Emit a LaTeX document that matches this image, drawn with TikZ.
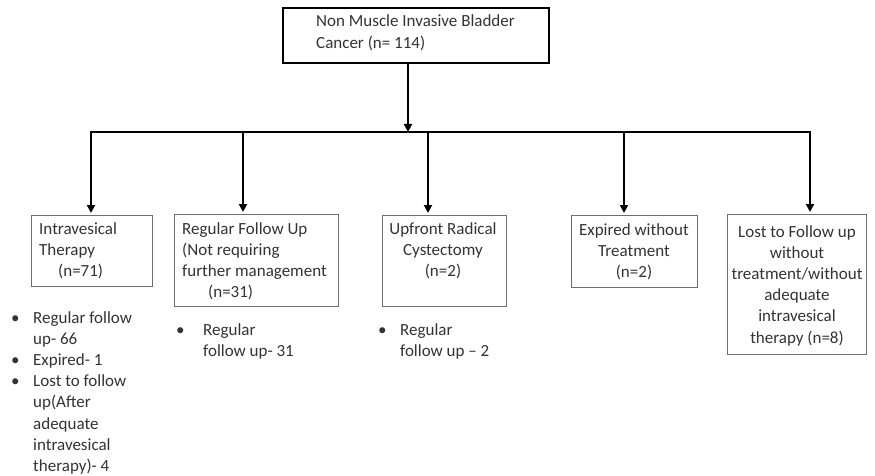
\documentclass[tikz,border=0pt]{standalone}
\usepackage{fontspec}
\setmainfont{Carlito}
\usetikzlibrary{arrows.meta}
\definecolor{txtc}{HTML}{333333}
\definecolor{bord}{HTML}{6E6E6E}
\newcommand\mybul[1]{\makebox[#1][l]{•}}
\begin{document}
\begin{tikzpicture}[x=1pt,y=-1pt,
  font=\fontsize{17}{21.2}\selectfont,
  box/.style={draw=bord,line width=1.3pt,inner sep=0pt,anchor=north west},
  topbox/.style={draw=black,line width=2.2pt,inner sep=0pt,anchor=north west},
  lbl/.style={text=txtc,inner sep=0pt,align=left,anchor=base west},
  clbl/.style={text=txtc,inner sep=0pt,align=center,anchor=base},
  arr/.style={line width=2.8pt,-{Triangle[width=8pt,length=8pt]}},
  conn/.style={line width=2.8pt,line cap=rect}]
\useasboundingbox (0,0) rectangle (875,476);
% boxes
\node[topbox,minimum width=266pt,minimum height=55pt] (top) at (282,7) {};
\node[box,minimum width=121pt,minimum height=71pt] (intra) at (31,215) {};
\node[box,minimum width=164pt,minimum height=92pt] (reg) at (174,214) {};
\node[box,minimum width=124pt,minimum height=91pt] (upf) at (382,215) {};
\node[box,minimum width=126pt,minimum height=72pt] (exp) at (571,215) {};
\node[box,minimum width=139pt,minimum height=140pt] (lost) at (727,214) {};
% texts (anchored at the baseline of the last line)
\node[lbl] (toptxt) at (316,48.2) {Non Muscle Invasive Bladder\\Cancer (n= 114)};
\node[lbl] (t1) at (39,276.4) {Intravesical\\Therapy\\\hspace*{19pt}(n=71)};
\node[lbl] (t2) at (182,297.6) {Regular Follow Up\\(Not requiring\\further management\\\hspace*{26pt}(n=31)};
\node[clbl] (t3) at (443,276.4) {Upfront Radical\\Cystectomy\\(n=2)};
\node[clbl] (t4) at (634,277.4) {Expired without\\Treatment\\(n=2)};
\node[clbl] (t5) at (797,343) {Lost to Follow up\\without\\treatment/without\\adequate\\intravesical\\therapy (n=8)};
% bullet lists
\node[lbl] (b1) at (11,471.4) {\mybul{22pt}Regular follow\\\hspace*{22pt}up- 66\\\mybul{22pt}Expired- 1\\\mybul{22pt}Lost to follow\\\hspace*{22pt}up(After\\\hspace*{22pt}adequate\\\hspace*{22pt}intravesical\\\hspace*{22pt}therapy)- 4};
\node[lbl] (b2) at (176,356.2) {\mybul{27pt}Regular\\\hspace*{27pt}follow up- 31};
\node[lbl] (b3) at (378,356.2) {\mybul{22pt}Regular\\\hspace*{22pt}follow up – 2};
% connectors
\coordinate (hub) at (408,132);
\coordinate (d1) at (91,132);
\coordinate (d2) at (243,132);
\coordinate (d3) at (428,132);
\coordinate (d4) at (624,132);
\coordinate (d5) at (810,132);
\draw[arr] (top.south -| hub) -- (hub);
\draw[conn] (d1) -- (d5);
\draw[arr] (d1) -- ([yshift=2pt]d1 |- intra.north);
\draw[arr] (d2) -- ([yshift=2pt]d2 |- reg.north);
\draw[arr] (d3) -- ([yshift=2pt]d3 |- upf.north);
\draw[arr] (d4) -- ([yshift=2pt]d4 |- exp.north);
\draw[arr] (d5) -- ([yshift=2pt]d5 |- lost.north);
\end{tikzpicture}
\end{document}
